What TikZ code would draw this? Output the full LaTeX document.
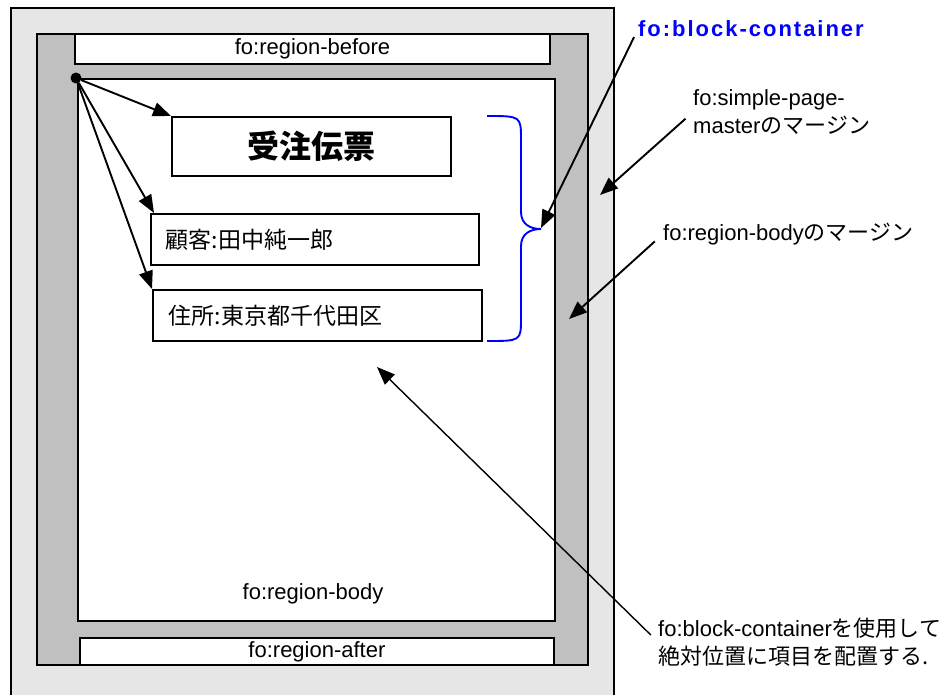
\documentclass[tikz,border=0pt]{standalone}
\usepackage{fontspec}
\setmainfont{Liberation Sans}
\newfontfamily\jp{Noto Sans CJK JP}
\newfontfamily\spaced[LetterSpace=9]{Liberation Sans}
\usetikzlibrary{arrows.meta,positioning}
\definecolor{pagegray}{HTML}{E6E6E6}
\definecolor{margingray}{HTML}{C0C0C0}

\begin{document}
\begin{tikzpicture}[x=1pt, y=-1pt, font=\fontsize{22}{28}\selectfont]
% Define block styles
\tikzstyle{region} = [rectangle, draw, line width=1.9pt, fill=white,
    inner sep=0pt, anchor=north west]
\tikzstyle{item} = [region, align=left, inner ysep=0pt]
\tikzstyle{line} = [draw, line width=1.9pt, -{Triangle[length=18pt,width=14pt]}]
\tikzstyle{note} = [inner sep=0pt, anchor=west, align=left]

\useasboundingbox (0,0) rectangle (948,694);
\clip (0,0) rectangle (948,694);

    % Place nodes
    \node [region, fill=pagegray, minimum width=603, minimum height=710] (page) at (10,7) {};
    \node [region, fill=margingray, minimum width=551, minimum height=631] (margin) at (36,33) {};
    \node [region, minimum width=475, minimum height=30] (before) at (74,33) {fo:region-before};
    \node [region, minimum width=477, minimum height=542] (body) at (77,78) {};
    \node [region, minimum width=474, minimum height=27] (after) at (79,637) {fo:region-after};
    \node (bodylbl) at (313,594) {fo:region-body};
    \node [region, minimum width=279, minimum height=59] (title) at (171,116)
        {\fontsize{32}{36}\jp\bfseries 受注伝票};
    \node [item, text width=298, inner xsep=15pt, minimum height=51] (cust) at (150,213)
        {\fontsize{23}{28}\jp 顧客:田中純一郎};
    \node [item, text width=297, inner xsep=16pt, minimum height=51] (addr) at (152,289)
        {\fontsize{23}{28}\jp 住所:東京都千代田区};
    \node [circle, fill, inner sep=0pt, minimum size=11] (dot) at (76,78) {};
    % Labels
    \node [note, text=blue] (bclbl) at (638,29) {\spaced\bfseries fo:block-container};
    \node [note] (pmlbl) at (693,112) {fo:simple-page-\\master{\jp のマージン}};
    \node [note] (rblbl) at (663,234) {fo:region-body{\jp のマージン}};
    \node [note] (abslbl) at (658,642) {fo:block-container{\jp を使用して}\\{\jp 絶対位置に項目を配置する.}};
    \coordinate (bctip) at (541,228);
    \coordinate (pmtip) at (600,195);
    \coordinate (rbtip) at (569,319);
    \coordinate (abstip) at (377,367);
    % Brace round the blocks
    \draw [blue, line width=1.9pt] (487,116) .. controls (521,116) .. (521,140) -- (521,212)
        .. controls (521,224) and (530,229) .. (541,229)
        .. controls (530,229) and (521,234) .. (521,246) -- (521,318)
        .. controls (521,341) .. (487,341);
    % Draw edges
    \path [line] (dot) -- (title.north west);
    \path [line] (dot) -- ([xshift=4]cust.north west);
    \path [line] (dot) -- (addr.north west);
    \path [line, shorten <=9pt] (bclbl.west) -- (bctip);
    \path [line, shorten <=10pt] (pmlbl.west) -- (pmtip);
    \path [line, shorten <=11pt] (rblbl.west) -- (rbtip);
    \path [line, line width=1.4pt, shorten <=10pt] (abslbl.west) -- (abstip);
\end{tikzpicture}
\end{document}
